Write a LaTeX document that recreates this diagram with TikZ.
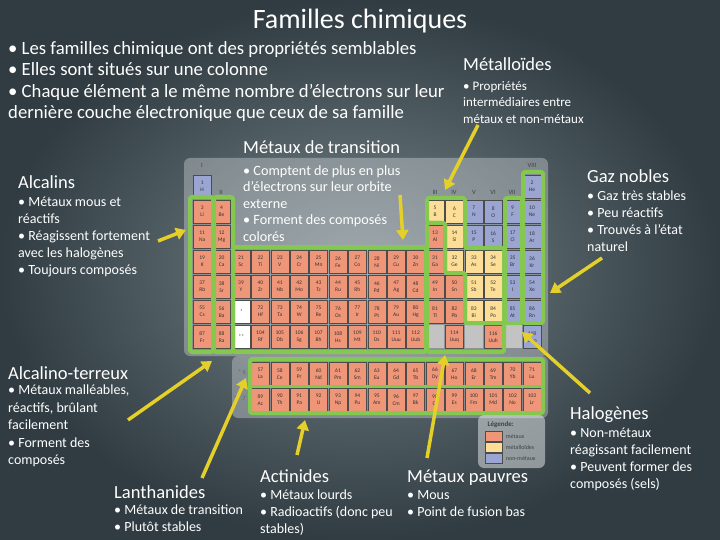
\documentclass[tikz,border=0pt]{standalone}
\usepackage{fontspec}
\setmainfont{Carlito}
\usetikzlibrary{arrows.meta}
\definecolor{bgin}{RGB}{118,132,138}
\definecolor{bgout}{RGB}{48,60,66}
\definecolor{cm}{RGB}{240,150,120}
\definecolor{cs}{RGB}{252,222,150}
\definecolor{cn}{RGB}{155,165,210}
\definecolor{cg}{RGB}{195,195,195}
\definecolor{cw}{RGB}{255,255,255}
\definecolor{hl}{RGB}{132,200,80}
\definecolor{arr}{RGB}{228,208,40}
\tikzset{
 cell/.style={draw=black!70,line width=0.4pt,minimum width=18pt,minimum height=23pt,inner sep=0pt,anchor=north west,font=\fontsize{5.5}{6}\selectfont,align=center,text=black!80},
 famline/.style={draw=hl,line width=4pt,rounded corners=2pt,line join=round},
 yarrow/.style={draw=arr,line width=3.5pt,-{Triangle[length=10pt,width=12pt]}},
 head/.style={anchor=base west,inner sep=0pt,text=white,font=\fontsize{18.5}{20}\selectfont},
 body/.style={anchor=north west,inner sep=0pt,text=white,font=\fontsize{14}{17}\selectfont,align=left},
 lbl/.style={font=\fontsize{6.5}{7}\selectfont,text=black!75}
}
\begin{document}
\begin{tikzpicture}[x=1pt,y=-1pt]
\useasboundingbox (0,0) rectangle (720,540);
\shade[inner color=bgin,outer color=bgout] (0,0) rectangle (720,540);
% glow behind the table
\fill[white,opacity=0.3,rounded corners=6pt] (184,158) rectangle (548,356);
\fill[white,opacity=0.3,rounded corners=6pt] (232,356) rectangle (548,418);
\fill[white,opacity=0.45,rounded corners=6pt] (478,415) rectangle (545,468);
% elements
\foreach \c/\r/\n/\s/\t in {
1/1/1/H/n,18/1/2/He/n,
1/2/3/Li/m,2/2/4/Be/m,13/2/5/B/s,14/2/6/C/s,15/2/7/N/n,16/2/8/O/n,17/2/9/F/n,18/2/10/Ne/n,
1/3/11/Na/m,2/3/12/Mg/m,13/3/13/Al/m,14/3/14/Si/s,15/3/15/P/n,16/3/16/S/n,17/3/17/Cl/n,18/3/18/Ar/n,
1/4/19/K/m,2/4/20/Ca/m,3/4/21/Sc/m,4/4/22/Ti/m,5/4/23/V/m,6/4/24/Cr/m,7/4/25/Mn/m,8/4/26/Fe/m,9/4/27/Co/m,10/4/28/Ni/m,11/4/29/Cu/m,12/4/30/Zn/m,13/4/31/Ga/m,14/4/32/Ge/s,15/4/33/As/s,16/4/34/Se/s,17/4/35/Br/n,18/4/36/Kr/n,
1/5/37/Rb/m,2/5/38/Sr/m,3/5/39/Y/m,4/5/40/Zr/m,5/5/41/Nb/m,6/5/42/Mo/m,7/5/43/Tc/m,8/5/44/Ru/m,9/5/45/Rh/m,10/5/46/Pd/m,11/5/47/Ag/m,12/5/48/Cd/m,13/5/49/In/m,14/5/50/Sn/m,15/5/51/Sb/s,16/5/52/Te/s,17/5/53/I/n,18/5/54/Xe/n,
1/6/55/Cs/m,2/6/56/Ba/m,4/6/72/Hf/m,5/6/73/Ta/m,6/6/74/W/m,7/6/75/Re/m,8/6/76/Os/m,9/6/77/Ir/m,10/6/78/Pt/m,11/6/79/Au/m,12/6/80/Hg/m,13/6/81/Tl/m,14/6/82/Pb/m,15/6/83/Bi/s,16/6/84/Po/s,17/6/85/At/n,18/6/86/Rn/n,
1/7/87/Fr/m,2/7/88/Ra/m,4/7/104/Rf/m,5/7/105/Db/m,6/7/106/Sg/m,7/7/107/Bh/m,8/7/108/Hs/m,9/7/109/Mt/m,10/7/110/Ds/m,11/7/111/Uuu/m,12/7/112/Uub/m,14/7/114/Uuq/m,16/7/116/Uuh/m,18/7/118/Uuo/n,
4/8/57/La/m,5/8/58/Ce/m,6/8/59/Pr/m,7/8/60/Nd/m,8/8/61/Pm/m,9/8/62/Sm/m,10/8/63/Eu/m,11/8/64/Gd/m,12/8/65/Tb/m,13/8/66/Dy/m,14/8/67/Ho/m,15/8/68/Er/m,16/8/69/Tm/m,17/8/70/Yb/m,18/8/71/Lu/m,
4/9/89/Ac/m,5/9/90/Th/m,6/9/91/Pa/m,7/9/92/U/m,8/9/93/Np/m,9/9/94/Pu/m,10/9/95/Am/m,11/9/96/Cm/m,12/9/97/Bk/m,13/9/98/Cf/m,14/9/99/Es/m,15/9/100/Fm/m,16/9/101/Md/m,17/9/102/No/m,18/9/103/Lr/m}{
 \pgfmathsetmacro{\xx}{193+(\c-1)*19.4}
 \pgfmathsetmacro{\yy}{\r<8 ? 175+(\r-1)*25 : (\r==8 ? 362 : 388)}
 \node[cell,fill=c\t] (e\n) at (\xx,\yy) {\n\\[1pt]\s};
}
\node[cell,fill=cw] (st1) at (232.2,300) {*};
\node[cell,fill=cw] (st2) at (232.2,325) {**};
\node[cell,fill=cg,draw=none] (g113) at (425.8,325) {};
\node[cell,fill=cg,draw=none] (g115) at (464.6,325) {};
\node[cell,fill=cg,draw=none] (g117) at (503.4,325) {};
% group labels
\node[lbl] (gI) at (202,165) {I};
\node[lbl] (gII) at (221,192) {II};
\node[lbl] (gIII) at (435,192) {III};
\node[lbl] (gIV) at (454,192) {IV};
\node[lbl] (gV) at (474,192) {V};
\node[lbl] (gVI) at (493,192) {VI};
\node[lbl] (gVII) at (512,192) {VII};
\node[lbl] (gVIII) at (532,165) {VIII};
\node[lbl,text=black!60] (p6) at (242,372) {* 6};
\node[lbl,text=black!60] (p7) at (240,398) {** 7};
% legend
\node[lbl,anchor=west,font=\fontsize{7}{8}\bfseries] (leg) at (484,425) {Légende:};
\node[cell,fill=cm,minimum width=17pt,minimum height=10pt] (l1) at (485,431) {};
\node[cell,fill=cs,minimum width=17pt,minimum height=10pt] (l2) at (485,442) {};
\node[cell,fill=cn,minimum width=17pt,minimum height=10pt] (l3) at (485,453) {};
\node[lbl,anchor=west,font=\fontsize{6}{7}\selectfont] at (l1.east) {métaux};
\node[lbl,anchor=west,font=\fontsize{6}{7}\selectfont] at (l2.east) {métalloïdes};
\node[lbl,anchor=west,font=\fontsize{6}{7}\selectfont] at (l3.east) {non-métaux};
% family outlines
\draw[famline] (190,197) rectangle (213,352);
\draw[famline] (214,197) rectangle (233,352);
\draw[famline] (233,247) rectangle (426,352);
\draw[famline] (427,223) -- (445,223) -- (445,273) -- (465,273) -- (465,323) -- (504,323) -- (504,352) -- (427,352) -- cycle;
\draw[famline] (427,198) -- (465,198) -- (465,248) -- (504,248) -- (504,323) -- (465,323) -- (465,273) -- (445,273) -- (445,223) -- (427,223) -- cycle;
\draw[famline] (505,198) rectangle (522,323);
\draw[famline] (523,172) rectangle (543,323);
\draw[famline] (250,359) rectangle (543,413);
\draw[draw=hl,line width=3pt] (250,386) -- (543,386);
% texts
\node[anchor=base,text=white,font=\fontsize{28}{32}\selectfont] (title) at (360,29) {Familles chimiques};
\node[body,font=\fontsize{18.7}{21.5}\selectfont] (intro) at (8,41) {• Les familles chimique ont des propriétés semblables\\• Elles sont situés sur une colonne\\• Chaque élément a le même nombre d’électrons sur leur\\dernière couche électronique que ceux de sa famille};
\node[head] (hmet) at (463,71) {Métalloïdes};
\node[body,font=\fontsize{13}{16.5}\selectfont] (bmet) at (463,81) {• Propriétés\\intermédiaires entre\\métaux et non-métaux};
\node[head] (htr) at (243,154) {Métaux de transition};
\node[body,font=\fontsize{14.2}{16.6}\selectfont] (btr) at (243,165) {• Comptent de plus en plus\\d’électrons sur leur orbite\\externe\\• Forment des composés\\colorés};
\node[head] (halc) at (18,189) {Alcalins};
\node[body] (balc) at (18,197) {• Métaux mous et\\réactifs\\• Réagissent fortement\\avec les halogènes\\• Toujours composés};
\node[head] (hgaz) at (587,183) {Gaz nobles};
\node[body] (bgaz) at (587,191) {• Gaz très stables\\• Peu réactifs\\• Trouvés à l’état\\naturel};
\node[head] (hat) at (8,379) {Alcalino-terreux};
\node[body,font=\fontsize{14}{17.5}\selectfont] (bat) at (8,385) {• Métaux malléables,\\réactifs,  brûlant\\facilement\\• Forment des\\composés};
\node[head] (hhal) at (570,419) {Halogènes};
\node[body] (bhal) at (570,428) {• Non-métaux\\réagissant facilement\\• Peuvent former des\\composés (sels)};
\node[head] (hlan) at (114,498) {Lanthanides};
\node[body] (blan) at (114,505) {• Métaux de transition\\• Plutôt stables};
\node[head] (hact) at (260,482) {Actinides};
\node[body] (bact) at (260,490) {• Métaux lourds\\• Radioactifs (donc peu\\stables)};
\node[head] (hpau) at (407,482) {Métaux pauvres};
\node[body] (bpau) at (407,490) {• Mous\\• Point de fusion bas};
% arrows
\coordinate (a1) at (158,241); \coordinate (a1e) at (186,230);
\draw[yarrow] (a1) -- (a1e);
\coordinate (a2) at (128,420); \coordinate (a2e) at (212,361);
\draw[yarrow] (a2) -- (a2e);
\coordinate (a3) at (202,478); \coordinate (a3e) at (246,378);
\draw[yarrow] (a3) -- (a3e);
\coordinate (a4) at (297,455); \coordinate (a4e) at (305,420);
\draw[yarrow] (a4) -- (a4e);
\coordinate (a5) at (427,458); \coordinate (a5e) at (445,355);
\draw[yarrow] (a5) -- (a5e);
\coordinate (a6) at (400,195); \coordinate (a6e) at (403,240);
\draw[yarrow] (a6) -- (a6e);
\coordinate (a7) at (478,125); \coordinate (a7e) at (445,190);
\draw[yarrow] (a7) -- (a7e);
\coordinate (a8) at (602,258); \coordinate (a8e) at (550,293);
\draw[yarrow] (a8) -- (a8e);
\coordinate (a9) at (590,393); \coordinate (a9e) at (522,332);
\draw[yarrow] (a9) -- (a9e);
\end{tikzpicture}
\end{document}
